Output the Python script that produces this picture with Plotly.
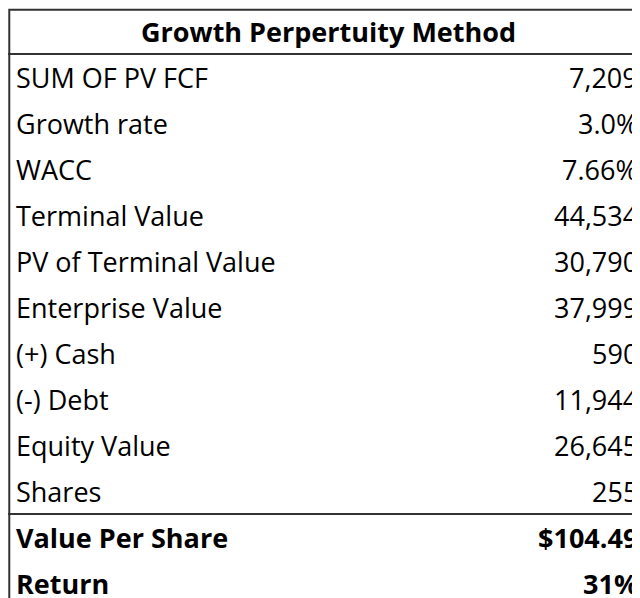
import plotly.graph_objects as go

title = "Growth Perpertuity Method"
labels = ["SUM OF PV FCF", "Growth rate", "WACC", "Terminal Value",
          "PV of Terminal Value", "Enterprise Value", "(+) Cash", "(-) Debt",
          "Equity Value", "Shares", "Value Per Share", "Return"]
values = ["7,209", "3.0%", "7.66%", "44,534", "30,790", "37,999", "590",
          "11,944", "26,645", "255", "$104.49", "31%"]
bold_rows = ["Value Per Share", "Return"]

font = dict(family="Open Sans, Liberation Sans", size=27, color="black")

fig = go.Figure()
fig.add_trace(go.Scatter(x=[0], y=[0], mode="markers", marker=dict(opacity=0),
                         hoverinfo="skip"))

for i, (l, v) in enumerate(zip(labels, values), start=1):
    b = l in bold_rows
    fig.add_annotation(x=6, y=i, text=f"<b>{l}</b>" if b else l, showarrow=False,
                       xanchor="left", yanchor="middle", font=font)
    fig.add_annotation(x=632, y=i, text=f"<b>{v}</b>" if b else v, showarrow=False,
                       xanchor="right", yanchor="middle", font=font)
fig.add_annotation(x=320, y=0, text=f"<b>{title}</b>", showarrow=False,
                   xanchor="center", yanchor="middle", font=font)

line = dict(color="#333333", width=2)
fig.add_shape(type="rect", xref="paper", yref="paper", x0=0.002, x1=0.997,
              y0=0.003, y1=0.997, line=line)
fig.add_shape(type="line", x0=0, x1=640, y0=0.5, y1=0.5, line=line)
fig.add_shape(type="line", x0=0, x1=640, y0=10.5, y1=10.5, line=line)

fig.update_layout(
    width=640, height=598, margin=dict(l=0, r=0, t=0, b=0),
    plot_bgcolor="white", paper_bgcolor="white", showlegend=False,
    xaxis=dict(range=[0, 640], visible=False, fixedrange=True),
    yaxis=dict(range=[12.5, -0.5], visible=False, fixedrange=True),
)
fig.write_html("out.html")
